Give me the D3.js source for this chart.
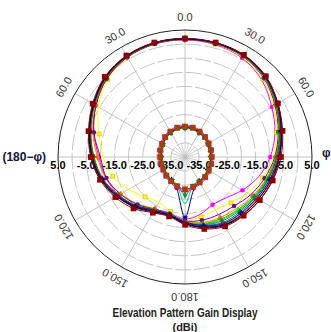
<!DOCTYPE html>
<html lang="en">
    <head>
        <meta charset="UTF-8" />
        <title>Elevation Pattern</title>
        <script src="https://d3js.org/d3.v7.js"></script>
    </head>

    <body>
        <div id="dataviz"></div>
    </body>

    <script>
        // angles in degrees, clockwise from the top
        const angles = [0, 15, 30, 45, 60, 75, 90, 105, 120, 135, 150, 165, 180, 195, 210, 225, 240, 255, 270, 285, 300, 315, 330, 345];

        // co-polar traces (dBi)
        const co1 = [1.9, 1.8, 1.6, 0.3, -2.0, -4.5, -6.5, -8.0, -9.5, -10.8, -12.0, -14.0, -16.5, -18.5, -17.5, -14.8, -12.0, -9.0, -6.8, -4.8, -2.5, 0.0, 1.3, 1.9];
        const co2 = [1.5, 1.2, 0.5, -1.5, -4.5, -7.0, -9.8, -13.0, -16.5, -19.5, -20.5, -19.0, -18.0, -19.5, -18.5, -15.5, -13.0, -11.0, -9.5, -6.5, -3.5, -0.8, 0.8, 1.4];
        const co3 = [1.7, 1.4, 0.8, -1.0, -3.8, -6.5, -8.8, -11.5, -14.5, -17.0, -18.5, -18.0, -17.5, -20.0, -21.5, -20.0, -17.0, -13.5, -11.0, -8.5, -4.5, -1.2, 0.7, 1.6];
        const co4 = [2.0, 2.0, 1.8, 0.5, -2.0, -4.2, -6.0, -7.8, -9.4, -10.6, -11.6, -13.6, -16.0, -18.2, -17.2, -14.2, -11.5, -8.8, -6.6, -4.6, -2.2, 0.2, 1.5, 2.0];
        const co5 = [1.8, 1.7, 1.4, 0.0, -2.6, -5.2, -7.4, -9.4, -11.2, -12.5, -13.2, -15.0, -17.0, -19.0, -18.4, -15.6, -12.8, -9.8, -7.6, -5.4, -3.0, -0.4, 1.0, 1.7];
        const co6 = [1.8, 1.9, 1.6, 0.2, -2.3, -4.8, -6.9, -8.9, -10.8, -12.0, -12.8, -14.8, -16.8, -18.8, -18.2, -15.4, -12.6, -9.6, -7.2, -5.0, -2.6, -0.1, 1.2, 1.8];
        const co7 = [1.9, 1.9, 1.7, 0.4, -2.1, -4.6, -6.6, -8.4, -10.0, -11.2, -12.2, -14.3, -16.3, -18.4, -17.8, -15.0, -12.2, -9.3, -7.1, -5.0, -2.6, -0.1, 1.3, 1.9];
        const co8 = [1.7, 1.6, 1.2, -0.3, -3.0, -5.6, -7.9, -10.2, -12.4, -14.2, -15.2, -16.0, -17.2, -19.0, -18.8, -16.4, -13.8, -11.0, -9.0, -6.2, -3.4, -0.7, 0.9, 1.6];
        const co9 = [1.9, 1.8, 1.5, 0.1, -2.5, -5.0, -7.1, -9.0, -10.6, -11.8, -12.6, -14.6, -16.6, -18.6, -18.0, -15.2, -12.4, -9.4, -7.2, -5.0, -2.6, 0.0, 1.3, 1.8];
        const co10 = [1.6, 1.5, 1.1, -0.5, -3.2, -5.8, -8.2, -10.8, -13.2, -15.4, -16.4, -16.8, -17.4, -19.2, -18.6, -16.2, -13.6, -11.2, -10.0, -6.6, -3.6, -0.8, 0.8, 1.5];
        const co11 = [1.8, 1.7, 1.3, -0.2, -2.8, -5.4, -7.6, -9.8, -11.8, -13.4, -14.2, -15.4, -16.9, -18.9, -18.3, -15.5, -12.7, -9.7, -7.5, -5.3, -2.9, -0.3, 1.1, 1.7];
        const co12 = [1.9, 1.9, 1.6, 0.3, -2.2, -4.7, -6.8, -8.6, -10.2, -11.4, -12.3, -14.4, -16.4, -18.5, -17.9, -15.1, -12.3, -9.4, -7.2, -5.1, -2.7, -0.2, 1.2, 1.9];
        const co13 = [1.8, 1.8, 1.5, 0.0, -2.7, -5.3, -7.5, -9.6, -11.5, -13.0, -13.8, -15.2, -16.7, -18.7, -18.1, -15.3, -12.5, -9.5, -7.3, -5.1, -2.7, -0.2, 1.2, 1.8];
        const co14 = [1.7, 1.7, 1.3, -0.1, -2.9, -5.5, -7.8, -10.0, -12.0, -13.6, -14.6, -15.6, -17.0, -18.8, -18.5, -15.7, -12.9, -10.0, -7.8, -5.5, -3.0, -0.4, 1.0, 1.6];

        // cross-polar traces (dBi)
        const cx1 = [-29.2, -29.3, -29.6, -30.0, -30.3, -30.5, -30.5, -30.4, -30.3, -30.0, -29.6, -29.1, -28.6, -29.3, -30.1, -30.7, -31.1, -31.2, -31.2, -31.0, -30.6, -30.1, -29.6, -29.3];
        const cx2 = [-28.8, -28.9, -29.2, -29.6, -29.9, -30.1, -30.1, -30.0, -29.8, -29.4, -29.0, -28.5, -27.5, -28.6, -29.6, -30.2, -30.6, -30.7, -30.7, -30.5, -30.1, -29.6, -29.2, -28.9];
        const cx3 = [-29.5, -29.6, -29.9, -30.3, -30.6, -30.8, -30.8, -30.7, -30.6, -30.3, -29.9, -28.0, -18.5, -28.5, -30.5, -31.0, -31.4, -31.5, -31.5, -31.3, -30.9, -30.4, -29.9, -29.6];
        const cx4 = [-29.7, -29.8, -30.1, -30.5, -30.8, -31.0, -31.0, -30.9, -30.8, -30.5, -30.1, -29.5, -26.5, -29.8, -30.6, -31.2, -31.6, -31.7, -31.7, -31.5, -31.1, -30.6, -30.1, -29.8];
        const cx5 = [-29.0, -29.1, -29.4, -29.8, -30.1, -30.3, -30.3, -30.2, -30.0, -29.7, -29.3, -28.8, -28.2, -29.0, -29.8, -30.4, -30.8, -30.9, -30.9, -30.7, -30.3, -29.8, -29.4, -29.1];
        const cx6 = [-29.4, -29.5, -29.8, -30.2, -30.5, -30.7, -30.7, -30.6, -30.4, -30.1, -29.7, -29.2, -23.5, -29.3, -30.3, -30.9, -31.3, -31.4, -31.4, -31.2, -30.8, -30.3, -29.8, -29.5];

        const radialTicks = [-35, -25, -15, -5, 5];
        const gridRings = [-35, -30, -25, -20, -15, -10, -5, 0];
        const angleTicks = [0, 30, 60, 120, 150, 180, 210, 240, 300, 330];
        const angleLabels = ["0.0", "30.0", "60.0", "120.0", "150.0", "180.0", "150.0", "120.0", "60.0", "30.0"];

        const series = [
            {vals: co2, color: "#ff00ff", sym: d3.symbolCircle},
            {vals: co3, color: "#ffff00", sym: d3.symbolSquare},
            {vals: co8, color: "#ff8000", sym: d3.symbolDiamond},
            {vals: co10, color: "#800080", sym: d3.symbolCircle},
            {vals: co14, color: "#808000", sym: d3.symbolCross},
            {vals: co11, color: "#00ff00", sym: d3.symbolTriangle},
            {vals: co13, color: "#008080", sym: d3.symbolDiamond},
            {vals: co5, color: "#008000", sym: d3.symbolTriangle},
            {vals: co9, color: "#a0522d", sym: d3.symbolStar},
            {vals: co6, color: "#0000ff", sym: d3.symbolCross},
            {vals: co12, color: "#ff0000", sym: d3.symbolSquare},
            {vals: co7, color: "#000000", sym: d3.symbolCross},
            {vals: co1, color: "#000080", sym: d3.symbolStar},
            {vals: co4, color: "#8b0000", sym: d3.symbolSquare, big: true},
            {vals: cx5, color: "#ff66cc", sym: d3.symbolCircle},
            {vals: cx6, color: "#00c0c0", sym: d3.symbolTriangle},
            {vals: cx4, color: "#00a000", sym: d3.symbolDiamond},
            {vals: cx2, color: "#ff00ff", sym: d3.symbolSquare},
            {vals: cx3, color: "#000080", sym: d3.symbolStar},
            {vals: cx1, color: "#a0410d", sym: d3.symbolSquare, big: true}
        ];

        const width = 331, height = 332;
        const cx = 185, cy = 157, R = 127;

        const svg = d3.select("#dataviz")
            .append("svg")
            .attr("width", width)
            .attr("height", height)
            .style("font-family", "Arial, 'Liberation Sans', sans-serif");

        const g = svg.append("g").attr("transform", `translate(${cx},${cy})`);

        const r = d3.scaleLinear().domain([-40, 5]).range([0, R]);
        const a = d3.scaleLinear().domain([0, 360]).range([0, 2 * Math.PI]);

        // grid
        g.selectAll(".ring")
            .data(gridRings)
            .join("circle")
            .attr("r", d => r(d))
            .attr("fill", "none")
            .attr("stroke", "#c4c4c4")
            .attr("stroke-dasharray", "16,3");

        g.selectAll(".spoke")
            .data(d3.range(0, 360, 30))
            .join("line")
            .attr("x1", d => r(-35) * Math.sin(a(d)))
            .attr("y1", d => -r(-35) * Math.cos(a(d)))
            .attr("x2", d => R * Math.sin(a(d)))
            .attr("y2", d => -R * Math.cos(a(d)))
            .attr("stroke", "#c4c4c4");

        g.selectAll(".star")
            .data(d3.range(0, 180, 15))
            .join("line")
            .attr("x1", d => r(-35) * Math.sin(a(d)))
            .attr("y1", d => -r(-35) * Math.cos(a(d)))
            .attr("x2", d => -r(-35) * Math.sin(a(d)))
            .attr("y2", d => r(-35) * Math.cos(a(d)))
            .attr("stroke", "#bbbbbb")
            .attr("stroke-width", 0.7);

        g.append("circle")
            .attr("r", R)
            .attr("fill", "none")
            .attr("stroke", "#222")
            .attr("stroke-width", 1);

        // radial tick labels along the horizontal axis
        radialTicks.forEach(v => {
            [-1, 1].forEach(side => {
                g.append("text")
                    .attr("x", side * r(v))
                    .attr("y", 12)
                    .attr("text-anchor", "middle")
                    .attr("font-size", 11)
                    .attr("font-weight", "bold")
                    .attr("fill", "#000")
                    .text(v.toFixed(1));
            });
        });

        // traces
        const line = d3.lineRadial()
            .angle((d, i) => a(angles[i]))
            .radius(d => r(d))
            .curve(d3.curveCatmullRomClosed);

        series.forEach((s, k) => {
            g.append("path")
                .datum(s.vals)
                .attr("d", line)
                .attr("fill", "none")
                .attr("stroke", s.color)
                .attr("stroke-width", 1);

            const pts = s.vals.map((v, i) => ({v: v, ang: angles[i], i: i}))
                .filter(p => s.big || (p.i + k) % 2 === 0);

            g.selectAll(null)
                .data(pts)
                .join("path")
                .attr("transform", p => `translate(${r(p.v) * Math.sin(a(p.ang))},${-r(p.v) * Math.cos(a(p.ang))})`)
                .attr("d", d3.symbol().type(s.sym).size(s.big ? 32 : 16))
                .attr("fill", s.color)
                .attr("stroke", s.color === "#ffff00" ? "#b0a000" : "none")
                .attr("stroke-width", 0.5);
        });

        // angle labels
        angleTicks.forEach((d, i) => {
            const rr = R + 13;
            g.append("text")
                .attr("transform", `translate(${rr * Math.sin(a(d))},${-rr * Math.cos(a(d))}) rotate(${d})`)
                .attr("text-anchor", "middle")
                .attr("dy", "0.35em")
                .attr("font-size", 11)
                .attr("fill", "#333")
                .text(angleLabels[i]);
        });

        svg.append("text")
            .attr("x", 46)
            .attr("y", cy + 4)
            .attr("text-anchor", "end")
            .attr("font-size", 12)
            .attr("font-weight", "bold")
            .attr("fill", "#14143c")
            .text("(180\u2212\u03c6)");

        svg.append("text")
            .attr("x", 322)
            .attr("y", cy)
            .attr("font-size", 12)
            .attr("font-weight", "bold")
            .attr("fill", "#14143c")
            .text("\u03c6");

        svg.append("text")
            .attr("x", cx)
            .attr("y", 317)
            .attr("text-anchor", "middle")
            .attr("font-size", 12)
            .attr("font-weight", "bold")
            .attr("fill", "#222")
            .attr("textLength", 145)
            .attr("lengthAdjust", "spacingAndGlyphs")
            .text("Elevation Pattern Gain Display");

        svg.append("text")
            .attr("x", cx)
            .attr("y", 331)
            .attr("text-anchor", "middle")
            .attr("font-size", 11)
            .attr("font-weight", "bold")
            .attr("fill", "#222")
            .text("(dBi)");
    </script>

    <style>
        body { margin: 0; background: #fff; }
        svg { display: block; }
    </style>
</html>
